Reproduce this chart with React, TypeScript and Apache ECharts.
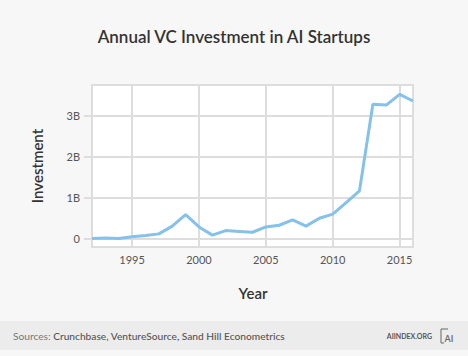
import React, { useEffect, useRef } from "react";
import * as echarts from "echarts";

const years = [1992, 1993, 1994, 1995, 1996, 1997, 1998, 1999, 2000, 2001, 2002, 2003, 2004, 2005, 2006, 2007, 2008, 2009, 2010, 2011, 2012, 2013, 2014, 2015, 2016];
const investmentB = [0.0, 0.01, 0.0, 0.04, 0.07, 0.11, 0.3, 0.58, 0.28, 0.08, 0.19, 0.17, 0.15, 0.28, 0.32, 0.45, 0.3, 0.49, 0.59, 0.87, 1.16, 3.27, 3.25, 3.51, 3.35];
const xTicks = [1995, 2000, 2005, 2010, 2015];
const yTicks = [0, 1, 2, 3];
const yTickLabels = ["0", "1B", "2B", "3B"];

export default function App() {
  const ref = useRef<HTMLDivElement>(null);
  useEffect(() => {
    const chart = echarts.init(ref.current!, null, { renderer: "svg" });
    const font = "Lato, 'Open Sans', sans-serif";
    chart.setOption({
      animation: false,
      backgroundColor: "#f7f7f7",
      title: {
        text: "Annual VC Investment in AI Startups",
        left: "center",
        top: 23,
        textStyle: { fontFamily: font, fontSize: 17, fontWeight: 600, color: "#333" },
      },
      grid: {
        left: 92,
        right: 55,
        top: 85,
        bottom: 109,
        show: true,
        backgroundColor: "#fff",
        borderColor: "#ddd",
        borderWidth: 2,
      },
      xAxis: {
        type: "value",
        min: 1992,
        max: 2016,
        axisLine: { show: false },
        axisTick: { show: false, customValues: xTicks },
        axisLabel: {
          customValues: xTicks,
          margin: 7,
          fontFamily: font,
          fontSize: 11,
          color: "#555",
          formatter: (v: number) => String(v),
        },
        splitLine: { show: true, lineStyle: { color: "#ddd", width: 2 } },
      },
      yAxis: {
        type: "value",
        min: -0.21,
        max: 3.74,
        axisLine: { show: false },
        axisTick: { show: true, length: 8, customValues: yTicks, lineStyle: { color: "#ddd", width: 2 } },
        axisLabel: {
          customValues: yTicks,
          margin: 12,
          fontFamily: font,
          fontSize: 11,
          color: "#555",
          formatter: (v: number) => yTickLabels[yTicks.indexOf(Math.round(v))] ?? "",
        },
        splitLine: { show: true, lineStyle: { color: "#ddd", width: 2 } },
      },
      series: [
        {
          type: "line",
          data: years.map((y, i) => [y, investmentB[i]]),
          showSymbol: false,
          lineStyle: { color: "#85c1e9", width: 3 },
          itemStyle: { color: "#85c1e9" },
        },
      ],
      graphic: [
        { type: "rect", shape: { x: 0, y: 321, width: 468, height: 29 }, style: { fill: "#ececec" }, z: -1 },
        {
          type: "text",
          x: 37,
          y: 166,
          rotation: Math.PI / 2,
          style: { text: "Investment", fontFamily: font, fontSize: 15, fontWeight: 600, fill: "#333", align: "center", verticalAlign: "middle" },
        },
        {
          type: "text",
          x: 253,
          y: 293,
          style: { text: "Year", fontFamily: font, fontSize: 15, fontWeight: 600, fill: "#333", align: "center", verticalAlign: "middle" },
        },
        {
          type: "text",
          x: 13,
          y: 336,
          style: {
            text: "{a|Sources: }{b|Crunchbase, VentureSource, Sand Hill Econometrics}",
            verticalAlign: "middle",
            rich: {
              a: { fontFamily: font, fontSize: 10.2, fill: "#777", color: "#777" },
              b: { fontFamily: font, fontSize: 10.2, fill: "#555", color: "#555", fontWeight: 500 },
            },
          },
        },
        {
          type: "text",
          x: 432,
          y: 336,
          style: { text: "AIINDEX.ORG", fontFamily: font, fontSize: 7, fontWeight: 700, fill: "#555", align: "right", verticalAlign: "middle" },
        },
        {
          type: "polyline",
          shape: { points: [[448, 329], [441, 329], [441, 343], [444, 343]] },
          style: { stroke: "#666", lineWidth: 1, fill: "none" },
        },
        {
          type: "text",
          x: 449,
          y: 338,
          style: { text: "AI", fontFamily: font, fontSize: 9, fontWeight: 600, fill: "#666", align: "center", verticalAlign: "middle" },
        },
      ],
    });
    return () => chart.dispose();
  }, []);
  return <div ref={ref} style={{ width: 468, height: 356, position: "absolute", left: 0, top: 0 }} />;
}
